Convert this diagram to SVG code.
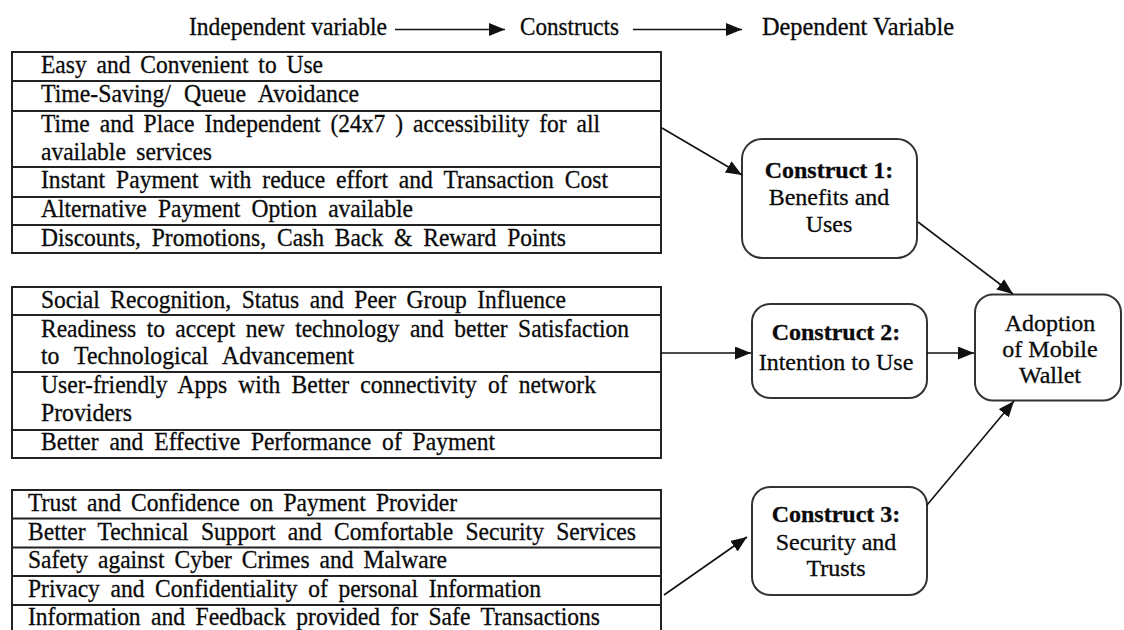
<svg xmlns="http://www.w3.org/2000/svg" width="1124" height="630" viewBox="0 0 1124 630">
<style>
text{font-family:"Liberation Serif","Times New Roman",serif;font-size:24.5px;fill:#0a0a0a;stroke:#0a0a0a;stroke-width:0.3}
.n{font-size:24px}
.b{font-weight:bold}
.c{text-anchor:middle}
.tbl{fill:#fff;stroke:#222;stroke-width:2}
.rl{stroke:#222;stroke-width:2}
.box{fill:#fff;stroke:#333;stroke-width:2}
.ar{stroke:#111;stroke-width:1.6;fill:none;marker-end:url(#ah)}
</style>
<defs>
<marker id="ah" markerUnits="userSpaceOnUse" markerWidth="16" markerHeight="13" refX="16" refY="6.5" orient="auto">
<path d="M0,0 L16,6.5 L0,13 Z" fill="#111"/>
</marker>
</defs>
<rect width="1124" height="630" fill="#fff"/>
<g id="header">
<text x="189" y="35" textLength="198" lengthAdjust="spacingAndGlyphs">Independent variable</text>
<text x="520" y="35" textLength="99" lengthAdjust="spacingAndGlyphs">Constructs</text>
<text x="762" y="35" textLength="192" lengthAdjust="spacingAndGlyphs">Dependent Variable</text>
</g>
<g id="table1">
<rect class="tbl" x="12" y="52" width="649" height="201"/>
<line class="rl" x1="12" y1="81" x2="661" y2="81"/>
<line class="rl" x1="12" y1="111" x2="661" y2="111"/>
<line class="rl" x1="12" y1="167" x2="661" y2="167"/>
<line class="rl" x1="12" y1="197" x2="661" y2="197"/>
<line class="rl" x1="12" y1="225" x2="661" y2="225"/>
<text x="41" y="73" word-spacing="4.1" textLength="282" lengthAdjust="spacingAndGlyphs">Easy and Convenient to Use</text>
<text x="41" y="102" word-spacing="7.3" textLength="318" lengthAdjust="spacingAndGlyphs">Time-Saving/ Queue Avoidance</text>
<text x="41" y="132" word-spacing="4.2" textLength="559" lengthAdjust="spacingAndGlyphs">Time and Place Independent (24x7 ) accessibility for all</text>
<text x="41" y="160" word-spacing="4.8" textLength="171" lengthAdjust="spacingAndGlyphs">available services</text>
<text x="41" y="188" word-spacing="5.2" textLength="567" lengthAdjust="spacingAndGlyphs">Instant Payment with reduce effort and Transaction Cost</text>
<text x="41" y="217" word-spacing="5.6" textLength="372" lengthAdjust="spacingAndGlyphs">Alternative Payment Option available</text>
<text x="41" y="246" word-spacing="5.2" textLength="525" lengthAdjust="spacingAndGlyphs">Discounts, Promotions, Cash Back &amp; Reward Points</text>
</g>
<g id="table2">
<rect class="tbl" x="12" y="287" width="649" height="171"/>
<line class="rl" x1="12" y1="315" x2="661" y2="315"/>
<line class="rl" x1="12" y1="372" x2="661" y2="372"/>
<line class="rl" x1="12" y1="430" x2="661" y2="430"/>
<text x="41" y="308" word-spacing="4.9" textLength="525" lengthAdjust="spacingAndGlyphs">Social Recognition, Status and Peer Group Influence</text>
<text x="41" y="337" word-spacing="4.7" textLength="588" lengthAdjust="spacingAndGlyphs">Readiness to accept new technology and better Satisfaction</text>
<text x="41" y="364" word-spacing="9.4" textLength="313" lengthAdjust="spacingAndGlyphs">to Technological Advancement</text>
<text x="41" y="393" word-spacing="5.5" textLength="555" lengthAdjust="spacingAndGlyphs">User-friendly Apps with Better connectivity of network</text>
<text x="41" y="421" textLength="91" lengthAdjust="spacingAndGlyphs">Providers</text>
<text x="41" y="450" word-spacing="5.2" textLength="454" lengthAdjust="spacingAndGlyphs">Better and Effective Performance of Payment</text>
</g>
<g id="table3">
<rect class="tbl" x="12" y="490" width="649" height="146"/>
<line class="rl" x1="12" y1="518.5" x2="661" y2="518.5"/>
<line class="rl" x1="12" y1="547.5" x2="661" y2="547.5"/>
<line class="rl" x1="12" y1="576" x2="661" y2="576"/>
<line class="rl" x1="12" y1="605" x2="661" y2="605"/>
<text x="28" y="511" word-spacing="4.4" textLength="429" lengthAdjust="spacingAndGlyphs">Trust and Confidence on Payment Provider</text>
<text x="28" y="540" word-spacing="6.6" textLength="608" lengthAdjust="spacingAndGlyphs">Better Technical Support and Comfortable Security Services</text>
<text x="28" y="568" word-spacing="4.2" textLength="419" lengthAdjust="spacingAndGlyphs">Safety against Cyber Crimes and Malware</text>
<text x="28" y="597" word-spacing="5" textLength="513" lengthAdjust="spacingAndGlyphs">Privacy and Confidentiality of personal Information</text>
<text x="28" y="625" word-spacing="4.8" textLength="572" lengthAdjust="spacingAndGlyphs">Information and Feedback provided for Safe Transactions</text>
</g>
<g id="construct1">
<rect class="box" x="742" y="139" width="175" height="119" rx="20"/>
<text class="c b n" x="829" y="178">Construct 1:</text>
<text class="c n" x="829" y="205">Benefits and</text>
<text class="c n" x="829" y="232">Uses</text>
</g>
<g id="construct2">
<rect class="box" x="752" y="304" width="175" height="94" rx="18"/>
<text class="c b n" x="836" y="340">Construct 2:</text>
<text class="c n" x="836" y="370">Intention to Use</text>
</g>
<g id="construct3">
<rect class="box" x="752" y="487" width="175" height="108" rx="18"/>
<text class="c b n" x="836" y="522">Construct 3:</text>
<text class="c n" x="836" y="550">Security and</text>
<text class="c n" x="836" y="576">Trusts</text>
</g>
<g id="adoption">
<rect class="box" x="975" y="294.5" width="146" height="106" rx="18"/>
<text class="c n" x="1050" y="331">Adoption</text>
<text class="c n" x="1050" y="357">of Mobile</text>
<text class="c n" x="1050" y="383">Wallet</text>
</g>
<g id="connectors">
<line class="ar" x1="395" y1="29.5" x2="505" y2="29.5"/>
<line class="ar" x1="633" y1="29.5" x2="742" y2="29.5"/>
<line class="ar" x1="662" y1="128" x2="742" y2="175"/>
<line class="ar" x1="918" y1="222" x2="1013" y2="294"/>
<line class="ar" x1="661" y1="353" x2="751" y2="353"/>
<line class="ar" x1="927" y1="353" x2="974" y2="353"/>
<line class="ar" x1="664" y1="595" x2="747" y2="537"/>
<line class="ar" x1="927" y1="505" x2="1014" y2="401"/>
</g>
</svg>
